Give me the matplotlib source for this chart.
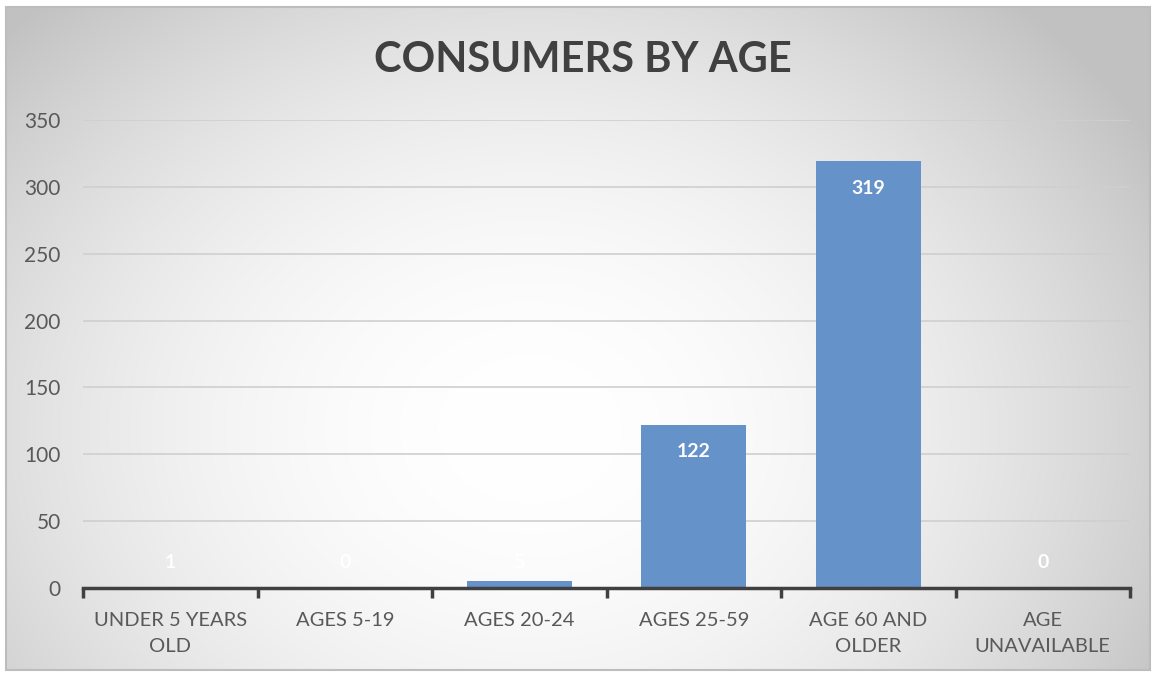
import numpy as np
import matplotlib
matplotlib.use("Agg")
import matplotlib.pyplot as plt
from matplotlib.patches import Rectangle

categories = ["UNDER 5 YEARS\nOLD", "AGES 5-19", "AGES 20-24", "AGES 25-59",
              "AGE 60 AND\nOLDER", "AGE\nUNAVAILABLE"]
values = [1, 0, 5, 122, 319, 0]
yticks = [0, 50, 100, 150, 200, 250, 300, 350]

plt.rcParams['font.family'] = ['Lato', 'DejaVu Sans']

W, H = 1154, 674
fig = plt.figure(figsize=(W / 100, H / 100), dpi=100)

# radial gradient background inside the chart frame
bg = fig.add_axes([0, 0, 1, 1], zorder=-10)
bg.axis("off")
x0, y0, x1, y1 = 6, 7, 1150, 670
xx, yy = np.meshgrid(np.linspace(x0, x1, 400), np.linspace(y0, y1, 240))
d = np.sqrt(((xx - 530) / 720) ** 2 + ((yy - 430) / 580) ** 2)
d = np.clip(d, 0, 1)
shade = 1.0 - 0.24 * d ** 2.0
img = np.dstack([shade, shade, shade])
bg.imshow(img, extent=[x0, x1, y1, y0], aspect="auto", interpolation="bilinear")
bg.add_patch(Rectangle((x0, y0), x1 - x0, y1 - y0, fill=False, edgecolor="#bdbdbd", lw=1.5))
bg.set_xlim(0, W)
bg.set_ylim(H, 0)

ax = fig.add_axes([83 / W, 1 - 588 / H, (1130 - 83) / W, (588 - 120) / H])
ax.patch.set_alpha(0)

x = np.arange(len(categories))
ax.bar(x, values, width=0.6, color="#6592c9", zorder=3)

for xi, v in zip(x, values):
    ax.text(xi, max(v - 20, 19), str(v), ha="center", va="center",
            color="white", fontsize=14, fontweight="bold", zorder=4)

ax.set_xlim(-0.5, len(categories) - 0.5)
ax.set_ylim(0, 350)
ax.set_yticks(yticks)
ax.set_yticklabels([str(t) for t in yticks])
ax.yaxis.grid(True, color="#cfcfcf", lw=1.2, zorder=0)
ax.set_axisbelow(True)

ax.set_xticks(x)
ax.set_xticklabels(categories, linespacing=1.65)
ax.set_xticks(np.arange(-0.5, len(categories)), minor=True)
ax.tick_params(axis="x", which="major", length=0, pad=17, labelsize=14.5, labelcolor="#595959")
ax.tick_params(axis="x", which="minor", length=7, width=2.5, color="#404040", direction="out")
ax.tick_params(axis="y", length=0, pad=16, labelsize=15, labelcolor="#595959")

for s in ["top", "right", "left"]:
    ax.spines[s].set_visible(False)
ax.spines["bottom"].set_color("#404040")
ax.spines["bottom"].set_linewidth(2.5)
ax.spines["bottom"].set_zorder(5)

fig.text(583 / W, 1 - 60 / H, "CONSUMERS BY AGE", ha="center", va="center",
         fontsize=30, fontweight="bold", color="#404040")

fig.savefig("out.png", dpi=100)
